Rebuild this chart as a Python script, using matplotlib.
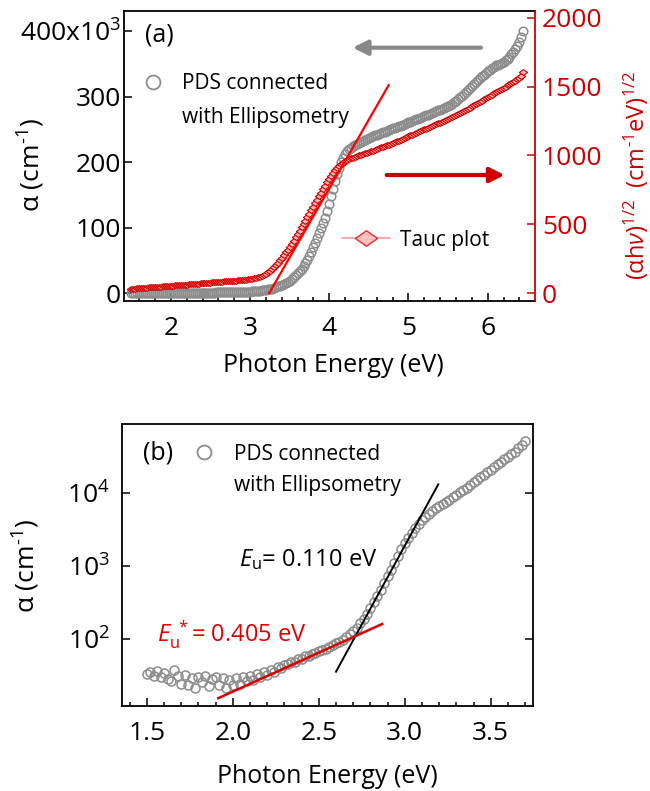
import numpy as np
import matplotlib
matplotlib.use('Agg')
import matplotlib.pyplot as plt
from matplotlib.ticker import MultipleLocator, NullLocator, FixedLocator, FormatStrFormatter
from matplotlib.lines import Line2D
from matplotlib.path import Path

plt.rcParams['font.family'] = ['Open Sans', 'DejaVu Sans']
plt.rcParams['mathtext.fontset'] = 'custom'
plt.rcParams['mathtext.rm'] = 'Open Sans'
plt.rcParams['mathtext.it'] = 'Open Sans:italic'
plt.rcParams['mathtext.bf'] = 'Open Sans:bold'

# ---- panel (a): linear alpha (10^3 cm^-1) + Tauc ----
energy_a = np.round(np.arange(1.500, 6.4501, 0.025), 3)
alpha_a = [0.5, 0.5, 0.5, 0.5, 0.5, 0.6, 0.6, 0.6, 0.6, 0.6,
           0.6, 0.7, 0.7, 0.7, 0.7, 0.7, 0.7, 0.8, 0.8, 0.8,
           0.8, 0.8, 0.8, 0.9, 0.9, 0.9, 0.9, 0.9, 0.9, 1.0,
           1.0, 1.0, 1.0, 1.0, 1.0, 1.1, 1.1, 1.1, 1.1, 1.2,
           1.2, 1.2, 1.2, 1.3, 1.3, 1.4, 1.4, 1.5, 1.5, 1.6,
           1.6, 1.7, 1.8, 1.9, 2.0, 2.1, 2.2, 2.4, 2.5, 2.6,
           2.8, 3.0, 3.2, 3.4, 3.7, 4.0, 4.4, 4.8, 5.3, 5.9,
           6.5, 7.3, 8.2, 9.3, 10.5, 11.7, 13.0, 14.5, 16.0, 17.7,
           19.5, 22, 24.5, 27.5, 30.5, 34, 37.5, 41.5, 46, 51.5,
           57, 63.5, 70, 77, 84, 91.5, 99, 107, 115, 126,
           137, 148.5, 160, 171, 182, 191.5, 200, 207, 213, 217,
           220, 222.5, 225, 226.5, 228, 229.5, 231, 232.5, 234, 235.5,
           237, 238.5, 240, 241, 242, 243.2, 244.5, 245.8, 247, 248.2,
           249.5, 250.8, 252, 253, 254, 255, 256, 257.2, 258.5, 259.8,
           261, 262, 263, 264.2, 265.5, 266.8, 268, 269.2, 270.5, 271.8,
           273, 274.2, 275.5, 276.8, 278, 279.2, 280.5, 281.8, 283, 284.5,
           286, 287.7, 289.5, 291.7, 294, 296.5, 299, 301.7, 304.5, 307.5,
           310.5, 313.5, 316.5, 319.5, 322.5, 325.5, 328.5, 331.2, 334, 336.5,
           339, 341.2, 343.5, 345.8, 348, 349.2, 350.5, 351.8, 353, 355.5,
           358, 361.5, 365, 369, 373, 378, 383, 391, 401]
tauc_a = [32, 33, 34, 35.5, 37, 38, 39, 40, 41, 42.5,
          44, 45, 46, 47, 48, 49.5, 51, 52, 53, 54,
          55, 56, 57, 58.5, 60, 61, 62, 63, 64, 65.5,
          67, 68, 69, 70, 71, 72.5, 74, 75, 76, 77,
          78, 79, 80, 81.5, 83, 84, 85, 86, 87, 88,
          89, 90.5, 92, 93, 94, 95.5, 97, 98, 99, 101,
          103, 105, 108, 111.5, 116, 121, 127, 134.5, 143, 153.5,
          165, 177.5, 191, 206, 222, 239.5, 258, 277, 297, 317.5,
          338, 360, 383, 406, 430, 454, 478, 502.5, 527, 552.5,
          578, 603, 628, 653, 678, 704, 730, 755, 780, 805,
          830, 852, 873, 892, 910, 925, 938, 949, 958, 966,
          973, 979, 985, 990, 995, 1000, 1005, 1010, 1015, 1020.5,
          1026, 1031, 1036, 1041.5, 1047, 1052.5, 1058, 1063, 1068, 1073.5,
          1079, 1084.5, 1090, 1096, 1102, 1108, 1114, 1120.5, 1127, 1133,
          1139, 1145, 1151, 1157.5, 1164, 1170, 1176, 1182.5, 1189, 1195,
          1201, 1207.5, 1214, 1220, 1226, 1232.5, 1239, 1245, 1251, 1257.5,
          1264, 1270.5, 1277, 1283.5, 1290, 1297.5, 1305, 1313.5, 1322, 1330.5,
          1339, 1347.5, 1356, 1364.5, 1373, 1381.5, 1390, 1398.5, 1407, 1416,
          1425, 1433.5, 1442, 1450.5, 1459, 1467, 1475, 1483.5, 1492, 1500,
          1508, 1516.5, 1525, 1533.5, 1542, 1552, 1562, 1580, 1606]
tauc_fit_x = [3.24, 4.75]
tauc_fit_y = [0, 1510]

# ---- panel (b): log alpha, Urbach fits ----
energy_b = np.round(np.arange(1.50, 3.701, 0.02), 2)
alpha_b = [33, 35, 31, 36, 30, 34, 28, 26, 37, 31,
           24, 32, 23, 29, 21, 30, 25, 31, 22, 28,
           30, 23, 29, 21, 27, 23, 29, 24, 30, 26,
           31, 27, 33, 30, 35, 32, 37, 35, 40, 39,
           43, 44, 48, 48, 52, 52, 57, 57, 62, 63,
           67, 70, 73, 77, 82, 86, 91, 97, 105, 115,
           126, 142, 162, 188, 220, 262, 315, 385, 470, 580,
           720, 880, 1100, 1380, 1700, 2050, 2450, 2850, 3300, 3770,
           4230, 4750, 5250, 5750, 6250, 6750, 7200, 7700, 8200, 8800,
           9500, 10300, 11100, 12000, 13000, 14100, 15300, 16600, 18000, 19500,
           21200, 23000, 25000, 27200, 29500, 32000, 34700, 37600, 41500, 46500,
           53000]
eu_fit_x = [2.60, 3.195]
eu_fit_y = [35, 13300]
eu_star_fit_x = [1.915, 2.869]
eu_star_fit_y = [15.1, 159]

gray = '#8c8c8c'
dred = '#cc0000'
diamond = Path([(-1, 0), (0, 0.7), (1, 0), (0, -0.7), (-1, 0)],
               [Path.MOVETO, Path.LINETO, Path.LINETO, Path.LINETO, Path.CLOSEPOLY])
cm1 = 'α (cm$^{‐1}$)'

fig = plt.figure(figsize=(6.5, 7.91), dpi=100)

ax1 = fig.add_axes([124/650, 1-301/791, 411/650, 290/791])
ax1.plot(energy_a, alpha_a, ls='none', marker='o', ms=6.2, mfc='none',
         mec=gray, mew=1.1)
ax1.set_xlim(1.409, 6.597)
ax1.set_ylim(-11.7, 431)
ax1.set_yticks([0, 100, 200, 300, 400])
ax1.set_yticklabels(['0', '100', '200', '300', '400x10$^3$'])
ax1.xaxis.set_major_locator(FixedLocator([2, 3, 4, 5, 6]))
ax1.xaxis.set_minor_locator(MultipleLocator(0.2))
ax1.yaxis.set_minor_locator(NullLocator())
ax1.tick_params(which='major', direction='in', length=6, width=1.1, labelsize=19,
                top=False, right=False)
ax1.tick_params(which='minor', direction='in', length=3, width=1.1, top=False, right=False)
ax1.tick_params(axis='x', pad=11)
ax1.tick_params(axis='y', pad=2)
for s in ax1.spines.values():
    s.set_linewidth(1.3)
ax1.spines['right'].set_visible(False)
ax1.set_xlabel('Photon Energy (eV)', fontsize=18)
ax1.xaxis.set_label_coords(0.51, -0.178)
ax1.set_ylabel(cm1, fontsize=19)
ax1.yaxis.set_label_coords(-0.187, 0.47)

ax2 = ax1.twinx()
ax2.plot(energy_a, tauc_a, color='#ff9a9a', lw=0.8, marker=diamond, ms=6,
         mfc='#ffb8b8', mec='#d40000', mew=0.8)
ax2.plot(tauc_fit_x, tauc_fit_y, color='#ff0000', lw=1.6)
ax2.set_ylim(-55.6, 2048)
ax2.set_yticks([0, 500, 1000, 1500, 2000])
ax2.yaxis.set_minor_locator(NullLocator())
ax2.tick_params(axis='y', which='major', direction='in', length=6, width=1.1,
                labelsize=19, colors=dred, pad=5)
for k in ['left', 'top', 'bottom']:
    ax2.spines[k].set_visible(False)
ax2.spines['right'].set_color(dred)
ax2.spines['right'].set_linewidth(1.3)
ax2.set_ylabel('(αh$\\it{ν}$)$^{1/2}$  (cm$^{‐1}$eV)$^{1/2}$', fontsize=17, color=dred)
ax2.yaxis.set_label_coords(1.212, 0.434)

ax1.annotate('', xy=(4.26, 375), xytext=(5.95, 375),
             arrowprops=dict(arrowstyle='-|>', color='#888888', lw=3, mutation_scale=22))
ax1.annotate('', xy=(6.25, 180.6), xytext=(4.69, 180.6),
             arrowprops=dict(arrowstyle='-|>', color=dred, lw=3, mutation_scale=22))
ax1.text(0.051, 0.917, '(a)', transform=ax1.transAxes, fontsize=18, va='center')

ax1.legend(handles=[Line2D([], [], ls='none', marker='o', ms=10, mfc='none', mec=gray, mew=1.3),
                    Line2D([], [], ls='none')],
           labels=['PDS connected', 'with Ellipsometry'],
           loc='upper left', bbox_to_anchor=(0.045, 0.785), frameon=False,
           fontsize=15, handlelength=1.0, handletextpad=0.9,
           borderpad=0, borderaxespad=0, labelspacing=0.6)
ax2.legend(handles=[Line2D([], [], color='#f5a0a0', lw=1.2, marker=diamond, ms=16,
                           mfc='#ffc0c0', mec='#e03030', mew=1)],
           labels=['Tauc plot'], loc='center left', bbox_to_anchor=(0.53, 0.21),
           frameon=False, fontsize=15, handlelength=2.3, handletextpad=0.5,
           borderpad=0, borderaxespad=0)

# ---- panel (b) ----
axb = fig.add_axes([122/650, 1-706/791, 411/650, 282/791])
axb.plot(energy_b, alpha_b, ls='none', marker='o', ms=6.5, mfc='none', mec=gray, mew=1.1)
axb.plot(eu_fit_x, eu_fit_y, color='black', lw=1.4)
axb.plot(eu_star_fit_x, eu_star_fit_y, color='#dd0000', lw=1.8)
axb.set_yscale('log')
axb.set_xlim(1.355, 3.746)
axb.set_ylim(11.8, 9.0e4)
axb.xaxis.set_major_locator(FixedLocator([1.5, 2.0, 2.5, 3.0, 3.5]))
axb.xaxis.set_major_formatter(FormatStrFormatter('%.1f'))
axb.xaxis.set_minor_locator(MultipleLocator(0.1))
axb.yaxis.set_major_locator(FixedLocator([1e2, 1e3, 1e4]))
axb.yaxis.set_minor_locator(NullLocator())
axb.tick_params(which='major', direction='in', length=6, width=1.1, labelsize=19,
                top=False, right=True)
axb.tick_params(which='minor', direction='in', length=3, width=1.1, top=False, right=False)
axb.tick_params(axis='x', pad=11)
axb.tick_params(axis='y', pad=9)
for s in axb.spines.values():
    s.set_linewidth(1.3)
axb.set_xlabel('Photon Energy (eV)', fontsize=18)
axb.xaxis.set_label_coords(0.5, -0.206)
axb.set_ylabel(cm1, fontsize=19)
axb.yaxis.set_label_coords(-0.195, 0.496)
axb.text(0.052, 0.897, '(b)', transform=axb.transAxes, fontsize=18, va='center')
axb.legend(handles=[Line2D([], [], ls='none', marker='o', ms=10, mfc='none', mec=gray, mew=1.3),
                    Line2D([], [], ls='none')],
           labels=['PDS connected', 'with Ellipsometry'],
           loc='upper left', bbox_to_anchor=(0.175, 0.93), frameon=False,
           fontsize=15, handlelength=1.0, handletextpad=0.9,
           borderpad=0, borderaxespad=0, labelspacing=0.5)
axb.text(2.037, 1208, '$\\it{E}_{\\rm u}$= 0.110 eV', fontsize=17, va='center')
axb.text(1.559, 112, '$\\it{E}_{\\rm u}^{\\ *}$= 0.405 eV', fontsize=17, va='center', color='#dd0000')

fig.savefig('out.png', dpi=100)
